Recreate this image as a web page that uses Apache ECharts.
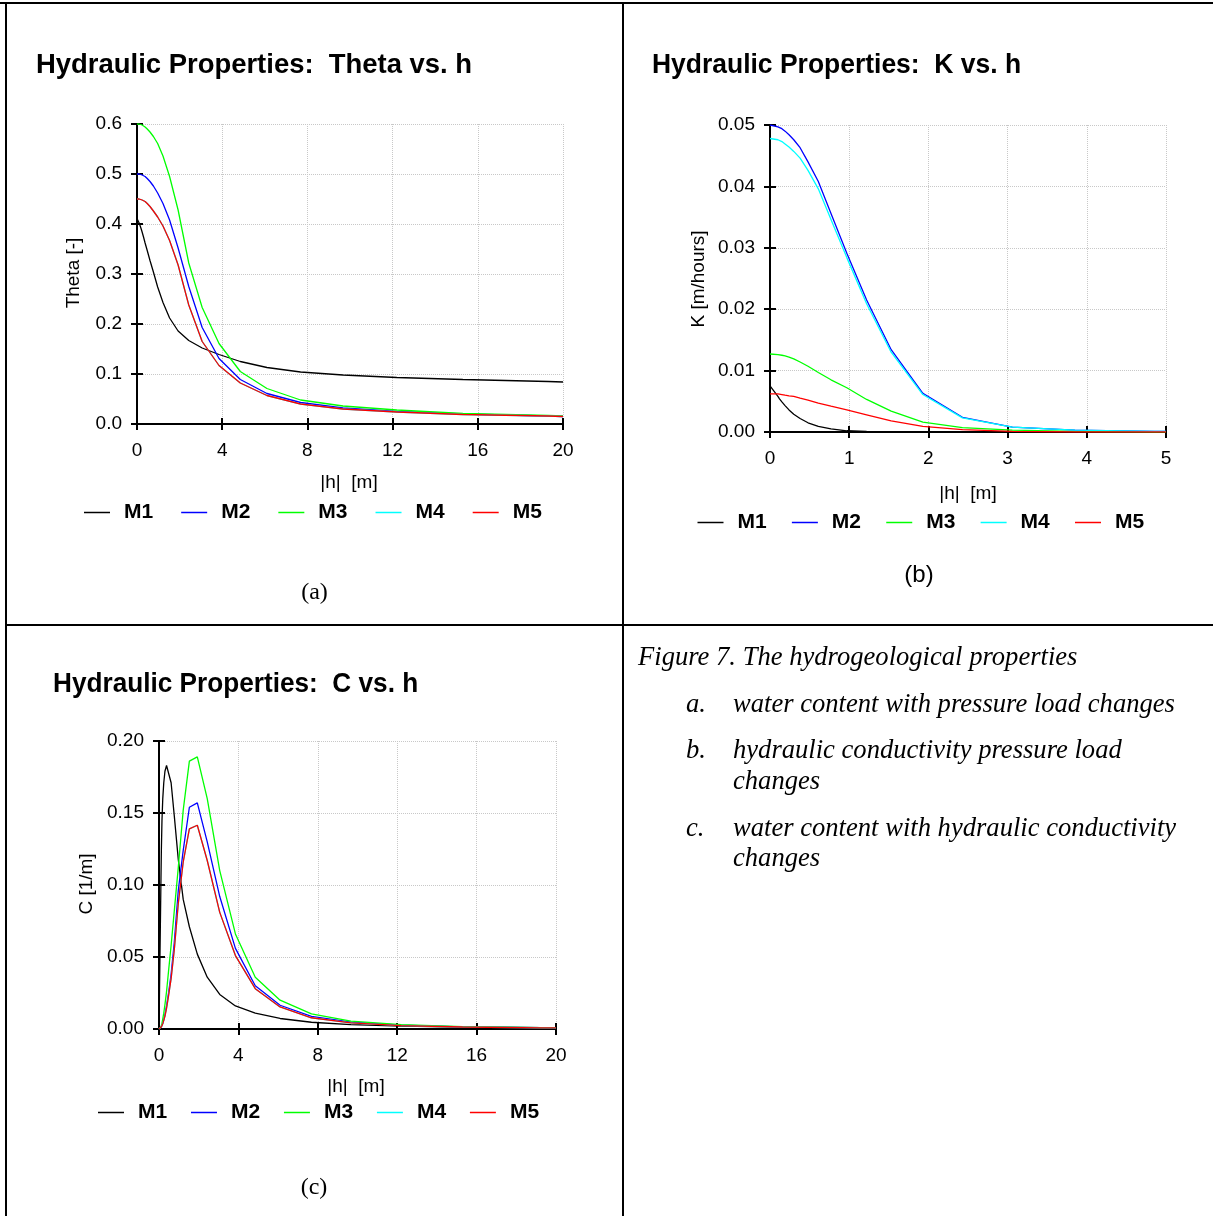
<!DOCTYPE html>
<html>
<head>
<meta charset="utf-8">
<title>Hydraulic Properties</title>
<script src="https://cdn.jsdelivr.net/npm/echarts@6/dist/echarts.min.js"></script>
<style>
  html, body { margin: 0; padding: 0; background: #ffffff; }
  #chart { width: 1213px; height: 1216px; }
</style>
</head>
<body>
<div id="chart"></div>
<script>
// Soil models and their line colours
const modelNames = ['M1', 'M2', 'M3', 'M4', 'M5'];
const modelColors = ['#000000', '#0000ff', '#00ff00', '#00ffff', '#ff0000'];

// Pressure head sample points |h| [m]
const hPoints = [0, 0.1, 0.12, 0.15, 0.19, 0.24, 0.3, 0.38, 0.48, 0.61, 0.77, 0.97, 1.22, 1.53, 1.93, 2.43, 3.06, 3.85, 4.85, 6.1, 7.68, 9.67, 12.2, 15.3, 19.3, 20];
const hPointsK = [0, 0.1, 0.12, 0.15, 0.19, 0.24, 0.3, 0.38, 0.48, 0.61, 0.77, 0.97, 1.22, 1.53, 1.93, 2.43, 3.06, 3.85, 4.85, 5];

// Water content Theta [-]
const thetaM1 = [0.411, 0.402, 0.400, 0.396, 0.391, 0.384, 0.375, 0.362, 0.347, 0.327, 0.304, 0.274, 0.243, 0.212, 0.186, 0.167, 0.152, 0.139, 0.125, 0.113, 0.104, 0.098, 0.093, 0.089, 0.085, 0.084];
const thetaM2 = [0.500, 0.500, 0.500, 0.500, 0.499, 0.498, 0.497, 0.495, 0.491, 0.485, 0.476, 0.462, 0.441, 0.408, 0.352, 0.275, 0.193, 0.131, 0.089, 0.061, 0.043, 0.032, 0.025, 0.020, 0.016, 0.015];
const thetaM3 = [0.600, 0.600, 0.600, 0.600, 0.599, 0.598, 0.596, 0.594, 0.590, 0.584, 0.575, 0.561, 0.536, 0.495, 0.428, 0.322, 0.233, 0.161, 0.105, 0.071, 0.048, 0.036, 0.028, 0.021, 0.017, 0.016];
const thetaM4 = [0.450, 0.450, 0.450, 0.450, 0.449, 0.448, 0.447, 0.445, 0.441, 0.435, 0.426, 0.414, 0.396, 0.367, 0.318, 0.238, 0.165, 0.117, 0.082, 0.057, 0.040, 0.030, 0.024, 0.019, 0.016, 0.015];
const thetaM5 = [0.450, 0.450, 0.450, 0.450, 0.449, 0.448, 0.447, 0.445, 0.441, 0.435, 0.426, 0.414, 0.396, 0.367, 0.318, 0.238, 0.165, 0.117, 0.082, 0.057, 0.040, 0.030, 0.024, 0.019, 0.016, 0.015];

// Hydraulic conductivity K [m/hours]
const kM1 = [0.0075, 0.0058, 0.0054, 0.0049, 0.0043, 0.0036, 0.0029, 0.0022, 0.0015, 0.0009, 0.0005, 0.0002, 0.0001, 0.00005, 0.0, 0.0, 0.0, 0.0, 0.0, 0.0];
const kM2 = [0.0500, 0.0497, 0.0496, 0.0494, 0.0490, 0.0484, 0.0476, 0.0463, 0.0440, 0.0408, 0.0356, 0.0291, 0.0215, 0.0134, 0.0063, 0.0024, 0.0008, 0.0003, 0.0001, 0.0001];
const kM3 = [0.0127, 0.0126, 0.0126, 0.0125, 0.0124, 0.0122, 0.0119, 0.0114, 0.0107, 0.0097, 0.0085, 0.0072, 0.0053, 0.0034, 0.0016, 0.0007, 0.0003, 0.0001, 0.0, 0.0];
const kM4 = [0.0478, 0.0476, 0.0475, 0.0473, 0.0469, 0.0464, 0.0457, 0.0446, 0.0426, 0.0396, 0.0346, 0.0284, 0.0209, 0.0130, 0.0061, 0.0023, 0.0008, 0.0003, 0.0001, 0.0001];
const kM5 = [0.0062, 0.0062, 0.0061, 0.0061, 0.0060, 0.0059, 0.0058, 0.0055, 0.0052, 0.0047, 0.0042, 0.0036, 0.0028, 0.0018, 0.0009, 0.0004, 0.0001, 0.0, 0.0, 0.0];

// Specific moisture capacity C [1/m]
const cM1 = [0, 0.105, 0.125, 0.145, 0.160, 0.171, 0.179, 0.183, 0.182, 0.171, 0.148, 0.118, 0.090, 0.071, 0.052, 0.036, 0.024, 0.016, 0.011, 0.0073, 0.0047, 0.0031, 0.0020, 0.0013, 0.0009, 0.0008];
const cM2 = [0, 0.001, 0.0015, 0.0025, 0.004, 0.0065, 0.010, 0.016, 0.025, 0.038, 0.060, 0.096, 0.124, 0.154, 0.157, 0.130, 0.092, 0.056, 0.030, 0.0165, 0.0088, 0.0048, 0.0027, 0.0015, 0.0009, 0.0008];
const cM3 = [0, 0.0015, 0.0025, 0.004, 0.007, 0.011, 0.017, 0.026, 0.040, 0.058, 0.082, 0.112, 0.152, 0.186, 0.189, 0.160, 0.110, 0.066, 0.036, 0.020, 0.0105, 0.0055, 0.0030, 0.0017, 0.0010, 0.0009];
const cM4 = [0, 0.001, 0.0015, 0.0023, 0.0037, 0.006, 0.009, 0.0145, 0.023, 0.035, 0.055, 0.087, 0.116, 0.139, 0.1415, 0.117, 0.081, 0.051, 0.028, 0.0153, 0.0078, 0.0043, 0.0024, 0.0014, 0.0008, 0.0008];
const cM5 = [0, 0.001, 0.0015, 0.0023, 0.0037, 0.006, 0.009, 0.0145, 0.023, 0.035, 0.055, 0.087, 0.116, 0.139, 0.1415, 0.117, 0.081, 0.051, 0.028, 0.0153, 0.0078, 0.0043, 0.0024, 0.0014, 0.0008, 0.0008];

// Axis ticks
const xTicksTheta = { min: 0, max: 20, interval: 4 };
const yTicksTheta = { min: 0, max: 0.6, interval: 0.1, decimals: 1 };
const xTicksK = { min: 0, max: 5, interval: 1 };
const yTicksK = { min: 0, max: 0.05, interval: 0.01, decimals: 2 };
const xTicksC = { min: 0, max: 20, interval: 4 };
const yTicksC = { min: 0, max: 0.2, interval: 0.05, decimals: 2 };

const SANS = '"Liberation Sans", Arial, Helvetica, sans-serif';
const SERIF = '"Liberation Serif", "Times New Roman", Times, serif';

const panels = [
  {
    grid: { left: 137, top: 124, width: 426, height: 300 },
    x: xTicksTheta, y: yTicksTheta, h: hPoints,
    values: [thetaM1, thetaM2, thetaM3, thetaM4, thetaM5],
    legend: { left: 84, top: 513, itemGap: 28 }
  },
  {
    grid: { left: 770, top: 125, width: 396, height: 307 },
    x: xTicksK, y: yTicksK, h: hPointsK,
    values: [kM1, kM2, kM3, kM4, kM5],
    legend: { left: 697.5, top: 523, itemGap: 25.2 }
  },
  {
    grid: { left: 159, top: 741, width: 397, height: 288 },
    x: xTicksC, y: yTicksC, h: hPoints,
    values: [cM1, cM2, cM3, cM4, cM5],
    legend: { left: 98, top: 1113, itemGap: 23.8 }
  }
];

const axisBlack = { color: '#000000', width: 2 };
const gridLine = { color: '#c8c8c8', type: 'dotted', width: 1 };
const grids = [], xAxes = [], yAxes = [], series = [], legends = [];

panels.forEach((p, k) => {
  grids.push(Object.assign({ containLabel: false }, p.grid));
  // main x axis with labels and outward ticks
  xAxes.push({
    gridIndex: k, type: 'value', position: 'bottom',
    min: p.x.min, max: p.x.max, interval: p.x.interval,
    axisLine: { show: true, onZero: false, lineStyle: axisBlack },
    axisTick: { show: true, length: 6, lineStyle: axisBlack },
    axisLabel: { margin: 17, fontSize: 19, color: '#000', fontFamily: SANS },
    splitLine: { show: true, lineStyle: gridLine }
  });
  // companion x axis: inward half of the crossing ticks
  xAxes.push({
    gridIndex: k, type: 'value', position: 'bottom',
    min: p.x.min, max: p.x.max, interval: p.x.interval,
    axisLine: { show: false, onZero: false },
    axisTick: { show: true, inside: true, length: 6, lineStyle: axisBlack },
    axisLabel: { show: false }, splitLine: { show: false }
  });
  yAxes.push({
    gridIndex: k, type: 'value', position: 'left',
    min: p.y.min, max: p.y.max, interval: p.y.interval,
    axisLine: { show: true, onZero: false, lineStyle: axisBlack },
    axisTick: { show: true, length: 6, lineStyle: axisBlack },
    axisLabel: {
      margin: 15, fontSize: 19, color: '#000', fontFamily: SANS,
      formatter: (v) => v.toFixed(p.y.decimals)
    },
    splitLine: { show: true, lineStyle: gridLine }
  });
  yAxes.push({
    gridIndex: k, type: 'value', position: 'left',
    min: p.y.min, max: p.y.max, interval: p.y.interval,
    axisLine: { show: false, onZero: false },
    axisTick: { show: true, inside: true, length: 6, lineStyle: axisBlack },
    axisLabel: { show: false }, splitLine: { show: false }
  });
  modelNames.forEach((name, i) => {
    series.push({
      type: 'line', name: name,
      xAxisIndex: 2 * k, yAxisIndex: 2 * k,
      data: p.h.map((hv, j) => [hv, p.values[i][j]]),
      symbol: 'none', showSymbol: false, smooth: false,
      color: modelColors[i],
      lineStyle: { color: modelColors[i], width: 1.3 },
      itemStyle: { color: modelColors[i] },
      emphasis: { disabled: true },
      clip: true
    });
  });
  legends.push({
    left: p.legend.left, top: p.legend.top - 11, orient: 'horizontal',
    padding: 0, itemGap: p.legend.itemGap, itemWidth: 26, itemHeight: 1.5,
    icon: 'rect', data: modelNames, selectedMode: false,
    textStyle: { fontSize: 21, fontWeight: 'bold', color: '#000', fontFamily: SANS, padding: [0, 0, 0, 9] }
  });
});

function txt(x, y, text, opts) {
  return Object.assign({
    type: 'text', x: x, y: y, silent: true,
    style: Object.assign({
      text: text, fill: '#000', fontFamily: SANS, fontSize: 18,
      align: 'center', verticalAlign: 'middle'
    }, opts.style || {})
  }, opts.el || {});
}
function hline(x1, x2, y) {
  return { type: 'line', silent: true, shape: { x1: x1, y1: y, x2: x2, y2: y }, style: { stroke: '#000', lineWidth: 2 } };
}
function vline(x, y1, y2) {
  return { type: 'line', silent: true, shape: { x1: x, y1: y1, x2: x, y2: y2 }, style: { stroke: '#000', lineWidth: 2 } };
}

const titleStyle = { fontSize: 28, fontWeight: 'bold', align: 'left' };
const nameStyle = { fontSize: 19 };
const italic = { fontFamily: SERIF, fontStyle: 'italic', fontSize: 26.6, align: 'left' };

const graphics = [
  // table frame
  hline(0, 1213, 3), hline(6, 1213, 625),
  vline(6, 2, 1216), vline(623, 2, 1216),
  // panel titles (condensed bold face)
  txt(36, 65, 'Hydraulic Properties:  Theta vs. h', { style: titleStyle, el: { scaleX: 0.98 } }),
  txt(652, 65, 'Hydraulic Properties:  K vs. h', { style: titleStyle, el: { scaleX: 0.945 } }),
  txt(53, 684, 'Hydraulic Properties:  C vs. h', { style: titleStyle, el: { scaleX: 0.935 } }),
  // axis names
  txt(74, 273, 'Theta [-]', { style: nameStyle, el: { rotation: Math.PI / 2 } }),
  txt(349, 483, '|h|  [m]', { style: nameStyle }),
  txt(699, 279, 'K [m/hours]', { style: nameStyle, el: { rotation: Math.PI / 2 } }),
  txt(968, 494, '|h|  [m]', { style: nameStyle }),
  txt(87, 884, 'C [1/m]', { style: nameStyle, el: { rotation: Math.PI / 2 } }),
  txt(356, 1087, '|h|  [m]', { style: nameStyle }),
  // panel captions
  txt(314.5, 593, '(a)', { style: { fontFamily: SERIF, fontSize: 24 } }),
  txt(919, 575, '(b)', { style: { fontSize: 24 } }),
  txt(314, 1188, '(c)', { style: { fontFamily: SERIF, fontSize: 24 } }),
  // figure caption
  txt(638, 658, 'Figure 7. The hydrogeological properties', { style: italic }),
  txt(686, 705, 'a.', { style: italic }),
  txt(733, 705, 'water content with pressure load changes', { style: italic }),
  txt(686, 751, 'b.', { style: italic }),
  txt(733, 751, 'hydraulic conductivity pressure load', { style: italic }),
  txt(733, 782, 'changes', { style: italic }),
  txt(686, 829, 'c.', { style: italic }),
  txt(733, 829, 'water content with hydraulic conductivity', { style: italic }),
  txt(733, 859, 'changes', { style: italic })
];

const chart = echarts.init(document.getElementById('chart'), null, { renderer: 'canvas' });
chart.setOption({
  backgroundColor: '#ffffff',
  animation: false,
  grid: grids,
  xAxis: xAxes,
  yAxis: yAxes,
  legend: legends,
  series: series,
  graphic: graphics
});
</script>
</body>
</html>
